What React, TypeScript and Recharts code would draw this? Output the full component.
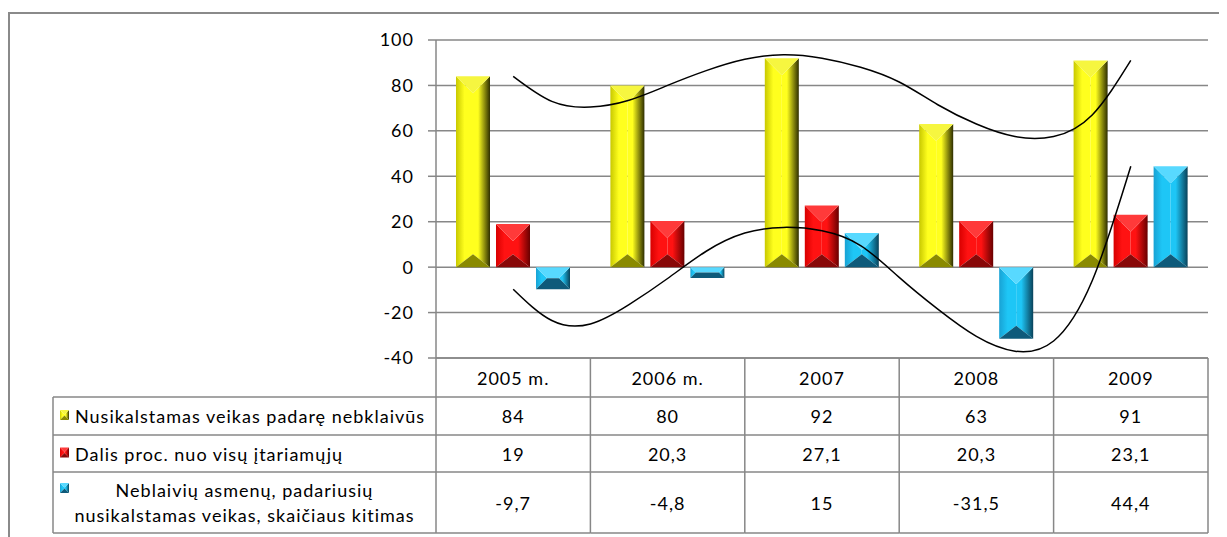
import React from "react";
import {
  ComposedChart,
  Bar,
  Line,
  XAxis,
  YAxis,
  CartesianGrid,
} from "recharts";

const years = ["2005 m.", "2006 m.", "2007", "2008", "2009"];
const drunkOffences = [84, 80, 92, 63, 91];
const sharePct = [19, 20.3, 27.1, 20.3, 23.1];
const changePct = [-9.7, -4.8, 15, -31.5, 44.4];

const seriesNames = [
  ["Nusikalstamas veikas padarę nebklaivūs"],
  ["Dalis proc. nuo visų įtariamųjų"],
  ["Neblaivių asmenų, padariusių", "nusikalstamas veikas, skaičiaus kitimas"],
];

const yTicks = [-40, -20, 0, 20, 40, 60, 80, 100];

// trend curves, every quarter of a category
const trendT = [0, 0.25, 0.5, 0.75, 1, 1.25, 1.5, 1.75, 2, 2.25, 2.5, 2.75, 3, 3.25, 3.5, 3.75, 4];
const offencesTrend = [84, 73, 70.5, 73.5, 80, 86.5, 91.5, 93.5, 92, 88, 81.5, 71.5, 63, 57.5, 57.5, 67, 91];
const changeTrend = [-9.7, -23.5, -25, -16.5, -5, 7, 15, 17.5, 16, 9.5, -4.5, -18.5, -30.5, -37, -32.5, -6, 44.4];

const data = years.map((year, i) => ({
  year,
  offences: drunkOffences[i],
  share: sharePct[i],
  change: changePct[i],
}));
const offencesTrendData = trendT.map((t, i) => ({ t, v: offencesTrend[i] }));
const changeTrendData = trendT.map((t, i) => ({ t, v: changeTrend[i] }));

const W = 1219;
const H = 529;
const PLOT_L = 428;
const PLOT_R = 1200;
const PLOT_TOP = 32;
const PLOT_BOTTOM = 350;
const COL_W = (PLOT_R - PLOT_L) / years.length;
const TABLE_LEFT = 45;
const ROWS = [350, 389, 427, 464, 525];
const GRID = "#878787";
const FONT = "Lato, 'Open Sans', sans-serif";

type Pal = { id: string; edgeL: string; mid: string; edgeR: string; top: string; bottom: string };
const PAL: Pal[] = [
  { id: "yel", edgeL: "#c8c800", mid: "#ffff1e", edgeR: "#2e2e00", top: "#f6f640", bottom: "#8a8a00" },
  { id: "red", edgeL: "#d80000", mid: "#ff1212", edgeR: "#680000", top: "#ff3a3a", bottom: "#880808" },
  { id: "blu", edgeL: "#18a2d4", mid: "#1ec6f6", edgeR: "#09425a", top: "#58d9ff", bottom: "#0e5a7a" },
];

const Bevel = ({ x, y, width, height, pal, uid }: any) => {
  let top = y;
  let h = height;
  if (h < 0) {
    top = y + h;
    h = -h;
  }
  const w = width;
  if (!w || !h) return null;
  const d = Math.min(w / 2, h / 2);
  const db = Math.min(d, 13);
  const gl = `${pal.id}-l-${uid}`;
  const gr = `${pal.id}-r-${uid}`;
  const b = top + h;
  return (
    <g>
      <defs>
        <linearGradient id={gl} x1="0" x2="1" y1="0" y2="0">
          <stop offset="0" stopColor={pal.edgeL} />
          <stop offset="0.5" stopColor={pal.mid} />
          <stop offset="1" stopColor={pal.mid} />
        </linearGradient>
        <linearGradient id={gr} x1="0" x2="1" y1="0" y2="0">
          <stop offset="0" stopColor={pal.mid} />
          <stop offset="0.3" stopColor={pal.mid} />
          <stop offset="1" stopColor={pal.edgeR} />
        </linearGradient>
      </defs>
      <rect x={x + d} y={top + d} width={Math.max(0, w - 2 * d)} height={Math.max(0, h - 2 * d)} fill={pal.mid} />
      <polygon points={`${x},${top} ${x + d},${top + d} ${x + d},${b - db} ${x},${b}`} fill={`url(#${gl})`} />
      <polygon points={`${x + w},${top} ${x + w - d},${top + d} ${x + w - d},${b - db} ${x + w},${b}`} fill={`url(#${gr})`} />
      <polygon points={`${x},${top} ${x + w},${top} ${x + w - d},${top + d} ${x + d},${top + d}`} fill={pal.top} />
      <polygon points={`${x},${b} ${x + w},${b} ${x + w - d},${b - db} ${x + d},${b - db}`} fill={pal.bottom} />
    </g>
  );
};

const fmt = (v: number) => String(v).replace(".", ",");

const txt = {
  fontFamily: FONT,
  fontSize: 18,
  letterSpacing: 1,
  fill: "#000",
  dominantBaseline: "central" as const,
};

const TableTick = (props: any) => {
  const { x, index, payload } = props;
  const left = x - COL_W / 2;
  const right = x + COL_W / 2;
  const rowVals = [drunkOffences[index], sharePct[index], changePct[index]];
  const line = { stroke: GRID, strokeWidth: 1.5 };
  return (
    <g>
      <line x1={right} x2={right} y1={ROWS[0]} y2={ROWS[4]} {...line} />
      {index === 0 && <line x1={left} x2={left} y1={ROWS[0]} y2={ROWS[4]} {...line} />}
      {ROWS.map((ry, k) => (
        <line key={k} x1={left} x2={right} y1={ry} y2={ry} {...line} />
      ))}
      <text x={x} y={(ROWS[0] + ROWS[1]) / 2} textAnchor="middle" {...txt}>
        {payload.value}
      </text>
      {rowVals.map((v, k) => (
        <text key={k} x={x} y={(ROWS[k + 1] + ROWS[k + 2]) / 2} textAnchor="middle" {...txt}>
          {fmt(v)}
        </text>
      ))}
      {index === 0 && (
        <g>
          <line x1={TABLE_LEFT} x2={TABLE_LEFT} y1={ROWS[1]} y2={ROWS[4]} {...line} />
          {ROWS.slice(1).map((ry, k) => (
            <line key={k} x1={TABLE_LEFT} x2={left} y1={ry} y2={ry} {...line} />
          ))}
          {seriesNames.map((nm, k) => {
            const rTop = ROWS[k + 1];
            const rMid = (ROWS[k + 1] + ROWS[k + 2]) / 2;
            if (nm.length === 1) {
              return (
                <g key={k}>
                  <Bevel x={TABLE_LEFT + 7} y={rMid - 6} width={9} height={10} pal={PAL[k]} uid={`lg${k}`} />
                  <text x={TABLE_LEFT + 22} y={rMid} textAnchor="start" {...txt}>
                    {nm[0]}
                  </text>
                </g>
              );
            }
            const cx = (TABLE_LEFT + left) / 2;
            return (
              <g key={k}>
                <Bevel x={TABLE_LEFT + 7} y={rTop + 11} width={9} height={10} pal={PAL[k]} uid={`lg${k}`} />
                {nm.map((ln, j) => (
                  <text key={j} x={cx} y={rTop + 18 + j * 25} textAnchor="middle" {...txt}>
                    {ln}
                  </text>
                ))}
              </g>
            );
          })}
        </g>
      )}
    </g>
  );
};

export default function App() {
  return (
    <div style={{ position: "relative", width: W, height: H, fontFamily: FONT }}>
      <div
        style={{
          position: "absolute",
          left: 0,
          top: 4,
          right: 0,
          bottom: 0,
          borderTop: "2px solid #8a8a8a",
          borderLeft: "2px solid #8a8a8a",
        }}
      />
      <div style={{ position: "absolute", left: 0, top: 0 }}>
        <ComposedChart
          width={W}
          height={H}
          data={data}
          margin={{ top: PLOT_TOP, right: W - PLOT_R, left: 0, bottom: 0 }}
          barSize={34}
          barGap={6}
        >
          <CartesianGrid vertical={false} stroke={GRID} strokeWidth={1.5} />
          <XAxis
            dataKey="year"
            height={H - PLOT_BOTTOM}
            axisLine={false}
            tickLine={false}
            interval={0}
            tick={<TableTick />}
          />
          <XAxis xAxisId="t" type="number" dataKey="t" domain={[-0.5, 4.5]} allowDataOverflow hide />
          <YAxis
            width={PLOT_L}
            domain={[-40, 100]}
            ticks={yTicks}
            interval={0}
            axisLine={{ stroke: GRID, strokeWidth: 1.5 }}
            tickLine={{ stroke: GRID, strokeWidth: 1.5 }}
            tickSize={8}
            tickMargin={14}
            tick={{ fill: "#000", fontSize: 18, letterSpacing: 1, fontFamily: FONT }}
          />
          <Bar
            dataKey="offences"
            isAnimationActive={false}
            shape={(p: any) => <Bevel {...p} pal={PAL[0]} uid={p.index} />}
          />
          <Bar
            dataKey="share"
            isAnimationActive={false}
            shape={(p: any) => <Bevel {...p} pal={PAL[1]} uid={p.index} />}
          />
          <Bar
            dataKey="change"
            isAnimationActive={false}
            shape={(p: any) => <Bevel {...p} pal={PAL[2]} uid={p.index} />}
          />
          <Line
            xAxisId="t"
            data={offencesTrendData}
            dataKey="v"
            type="natural"
            stroke="#000"
            strokeWidth={1.5}
            dot={false}
            activeDot={false}
            isAnimationActive={false}
          />
          <Line
            xAxisId="t"
            data={changeTrendData}
            dataKey="v"
            type="natural"
            stroke="#000"
            strokeWidth={1.5}
            dot={false}
            activeDot={false}
            isAnimationActive={false}
          />
        </ComposedChart>
      </div>
    </div>
  );
}
